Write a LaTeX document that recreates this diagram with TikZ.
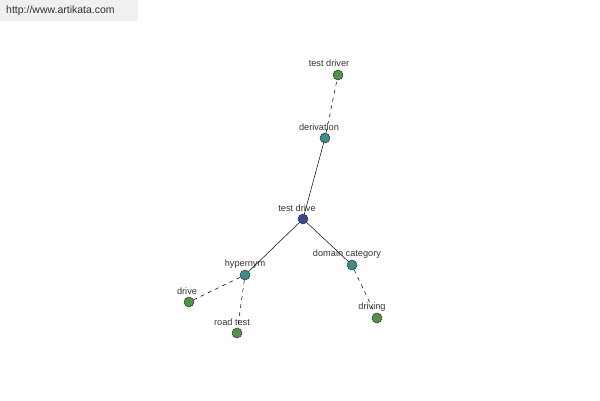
\documentclass[tikz,border=0pt]{standalone}
\usepackage{fontspec}
\setmainfont{Liberation Sans}
\usetikzlibrary{positioning}
\definecolor{leafcol}{HTML}{4E9347}
\definecolor{relcol}{HTML}{3C8C8A}
\definecolor{rootcol}{HTML}{3D4596}
\definecolor{txtcol}{HTML}{333333}

\begin{document}
\begin{tikzpicture}[
  x=1pt, y=-1pt,
  font=\fontsize{9.2}{10}\selectfont,
  dot/.style={circle, draw=black!80, line width=0.5pt, minimum size=10pt, inner sep=0pt},
  leaf/.style={dot, fill=leafcol},
  rel/.style={dot, fill=relcol},
  root/.style={dot, fill=rootcol},
  lbl/.style={text=txtcol, inner sep=0pt},
  solidedge/.style={draw=black, line width=0.5pt},
  dashedge/.style={draw=black, line width=0.5pt, dash pattern=on 4pt off 4pt}
]
\useasboundingbox (0,0) rectangle (600,400);

%% watermark
\fill[black!6] (0,0) rectangle (138,21);
\node[text=black!60!olive!40!black, font=\fontsize{10.5}{11}\selectfont, anchor=west, inner sep=0pt] (site) at (6,11) {http://www.artikata.com};

%% nodes
\node[leaf] (testdriver) at (338,75)  {};
\node[rel]  (derivation) at (325,138) {};
\node[root] (testdrive)  at (303,219) {};
\node[rel]  (hypernym)   at (245,275) {};
\node[rel]  (domaincat)  at (352,265) {};
\node[leaf] (drive)      at (189,302) {};
\node[leaf] (roadtest)   at (237,333) {};
\node[leaf] (driving)    at (377,318) {};

%% labels
\node[lbl] at (329,63)  {test driver};
\node[lbl] at (319,127) {derivation};
\node[lbl] at (297,208) {test drive};
\node[lbl] at (245,264) {hypernym};
\node[lbl] at (347,254) {domain category};
\node[lbl] at (187,291) {drive};
\node[lbl] at (232,322) {road test};
\node[lbl] at (372,307) {driving};

%% edges
\draw[dashedge] (derivation) -- (testdriver);
\draw[solidedge] (testdrive) -- (derivation);
\draw[solidedge] (testdrive) -- (hypernym);
\draw[solidedge] (testdrive) -- (domaincat);
\draw[dashedge] (hypernym) -- (drive);
\draw[dashedge] (hypernym) -- (roadtest);
\draw[dashedge] (domaincat) -- (driving);

\end{tikzpicture}
\end{document}
